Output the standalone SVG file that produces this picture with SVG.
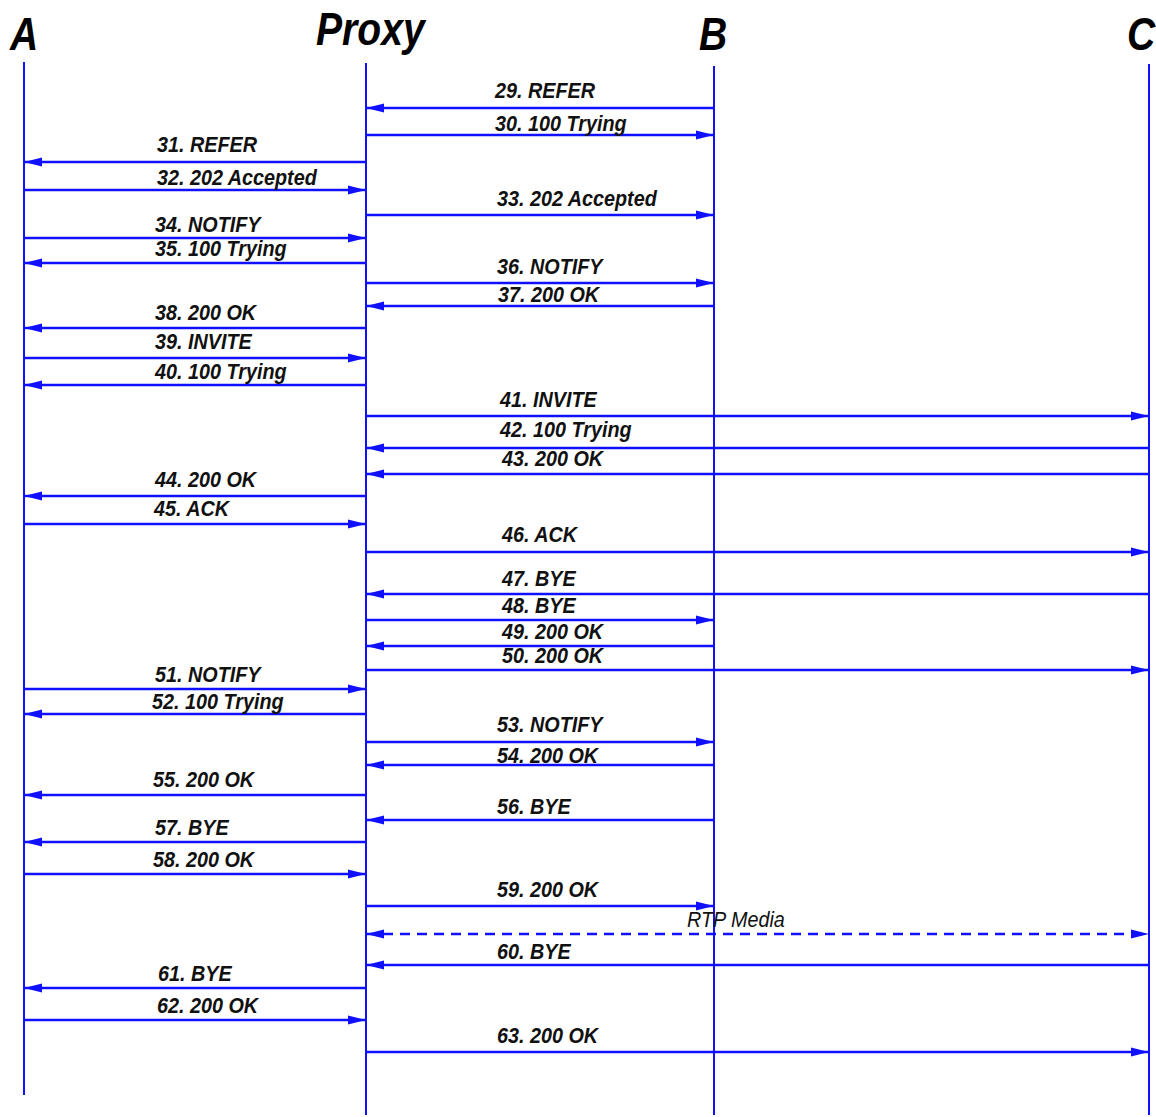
<svg xmlns="http://www.w3.org/2000/svg" width="1156" height="1117" viewBox="0 0 1156 1117">
<style>
.life{stroke:#1010ff;stroke-width:2;fill:none}
.msg{stroke:#1010ff;stroke-width:2.6;fill:none;marker-end:url(#ah)}
.dash{stroke-dasharray:10,7;marker-start:url(#ah)}
.t{font-family:"Liberation Sans",Arial,sans-serif;font-style:italic;font-weight:bold;font-size:22px;fill:#111}
.h{font-family:"Liberation Sans",Arial,sans-serif;font-style:italic;font-weight:bold;font-size:46px;fill:#000}
.rtp{font-weight:normal}
</style>
<defs>
<marker id="ah" markerUnits="userSpaceOnUse" markerWidth="19" markerHeight="12" refX="18" refY="6" orient="auto-start-reverse" viewBox="0 0 19 12">
<path d="M0,1.5 L18,6 L0,10.5 z" fill="#1010ff"/>
</marker>
</defs>
<rect width="1156" height="1117" fill="#fff"/>
<g id="A"><text class="h" transform="translate(10,50) scale(0.85,1)">A</text><line class="life" x1="24" y1="62" x2="24" y2="1095"/></g>
<g id="Proxy"><text class="h" transform="translate(316,45) scale(0.85,1)">Proxy</text><line class="life" x1="366" y1="63" x2="366" y2="1115"/></g>
<g id="B"><text class="h" transform="translate(699,50) scale(0.85,1)">B</text><line class="life" x1="714" y1="66" x2="714" y2="1115"/></g>
<g id="C"><text class="h" transform="translate(1127,50) scale(0.85,1)">C</text><line class="life" x1="1149" y1="64" x2="1149" y2="1115"/></g>
<g id="connectors">
<line class="msg" x1="714" y1="108" x2="366" y2="108"/>
<line class="msg" x1="366" y1="135" x2="714" y2="135"/>
<line class="msg" x1="366" y1="162" x2="24" y2="162"/>
<line class="msg" x1="24" y1="190" x2="366" y2="190"/>
<line class="msg" x1="366" y1="215" x2="714" y2="215"/>
<line class="msg" x1="24" y1="238" x2="366" y2="238"/>
<line class="msg" x1="366" y1="263" x2="24" y2="263"/>
<line class="msg" x1="366" y1="283" x2="714" y2="283"/>
<line class="msg" x1="714" y1="306" x2="366" y2="306"/>
<line class="msg" x1="366" y1="328" x2="24" y2="328"/>
<line class="msg" x1="24" y1="358" x2="366" y2="358"/>
<line class="msg" x1="366" y1="385" x2="24" y2="385"/>
<line class="msg" x1="366" y1="416" x2="1149" y2="416"/>
<line class="msg" x1="1149" y1="448" x2="366" y2="448"/>
<line class="msg" x1="1149" y1="474" x2="366" y2="474"/>
<line class="msg" x1="366" y1="496" x2="24" y2="496"/>
<line class="msg" x1="24" y1="524" x2="366" y2="524"/>
<line class="msg" x1="366" y1="552" x2="1149" y2="552"/>
<line class="msg" x1="1149" y1="594" x2="366" y2="594"/>
<line class="msg" x1="366" y1="620" x2="714" y2="620"/>
<line class="msg" x1="714" y1="646" x2="366" y2="646"/>
<line class="msg" x1="366" y1="670" x2="1149" y2="670"/>
<line class="msg" x1="24" y1="689" x2="366" y2="689"/>
<line class="msg" x1="366" y1="714" x2="24" y2="714"/>
<line class="msg" x1="366" y1="742" x2="714" y2="742"/>
<line class="msg" x1="714" y1="765" x2="366" y2="765"/>
<line class="msg" x1="366" y1="795" x2="24" y2="795"/>
<line class="msg" x1="714" y1="820" x2="366" y2="820"/>
<line class="msg" x1="366" y1="842" x2="24" y2="842"/>
<line class="msg" x1="24" y1="874" x2="366" y2="874"/>
<line class="msg" x1="366" y1="906" x2="714" y2="906"/>
<line class="msg dash" x1="366" y1="934" x2="1149" y2="934"/>
<line class="msg" x1="1149" y1="965" x2="366" y2="965"/>
<line class="msg" x1="366" y1="988" x2="24" y2="988"/>
<line class="msg" x1="24" y1="1020" x2="366" y2="1020"/>
<line class="msg" x1="366" y1="1052" x2="1149" y2="1052"/>
</g>
<g id="labels">
<text class="t" transform="translate(495,98) scale(0.9,1)">29. REFER</text>
<text class="t" transform="translate(495,131) scale(0.9,1)">30. 100 Trying</text>
<text class="t" transform="translate(157,152) scale(0.9,1)">31. REFER</text>
<text class="t" transform="translate(157,185) scale(0.9,1)">32. 202 Accepted</text>
<text class="t" transform="translate(497,206) scale(0.9,1)">33. 202 Accepted</text>
<text class="t" transform="translate(155,232) scale(0.9,1)">34. NOTIFY</text>
<text class="t" transform="translate(155,256) scale(0.9,1)">35. 100 Trying</text>
<text class="t" transform="translate(497,274) scale(0.9,1)">36. NOTIFY</text>
<text class="t" transform="translate(498,302) scale(0.9,1)">37. 200 OK</text>
<text class="t" transform="translate(155,320) scale(0.9,1)">38. 200 OK</text>
<text class="t" transform="translate(155,349) scale(0.9,1)">39. INVITE</text>
<text class="t" transform="translate(155,379) scale(0.9,1)">40. 100 Trying</text>
<text class="t" transform="translate(500,407) scale(0.9,1)">41. INVITE</text>
<text class="t" transform="translate(500,437) scale(0.9,1)">42. 100 Trying</text>
<text class="t" transform="translate(502,466) scale(0.9,1)">43. 200 OK</text>
<text class="t" transform="translate(155,487) scale(0.9,1)">44. 200 OK</text>
<text class="t" transform="translate(154,516) scale(0.9,1)">45. ACK</text>
<text class="t" transform="translate(502,542) scale(0.9,1)">46. ACK</text>
<text class="t" transform="translate(502,586) scale(0.9,1)">47. BYE</text>
<text class="t" transform="translate(502,613) scale(0.9,1)">48. BYE</text>
<text class="t" transform="translate(502,639) scale(0.9,1)">49. 200 OK</text>
<text class="t" transform="translate(502,663) scale(0.9,1)">50. 200 OK</text>
<text class="t" transform="translate(155,682) scale(0.9,1)">51. NOTIFY</text>
<text class="t" transform="translate(152,709) scale(0.9,1)">52. 100 Trying</text>
<text class="t" transform="translate(497,732) scale(0.9,1)">53. NOTIFY</text>
<text class="t" transform="translate(497,763) scale(0.9,1)">54. 200 OK</text>
<text class="t" transform="translate(153,787) scale(0.9,1)">55. 200 OK</text>
<text class="t" transform="translate(497,814) scale(0.9,1)">56. BYE</text>
<text class="t" transform="translate(155,835) scale(0.9,1)">57. BYE</text>
<text class="t" transform="translate(153,867) scale(0.9,1)">58. 200 OK</text>
<text class="t" transform="translate(497,897) scale(0.9,1)">59. 200 OK</text>
<text class="t rtp" transform="translate(687,927) scale(0.9,1)">RTP Media</text>
<text class="t" transform="translate(497,959) scale(0.9,1)">60. BYE</text>
<text class="t" transform="translate(158,981) scale(0.9,1)">61. BYE</text>
<text class="t" transform="translate(157,1013) scale(0.9,1)">62. 200 OK</text>
<text class="t" transform="translate(497,1043) scale(0.9,1)">63. 200 OK</text>
</g>
</svg>
